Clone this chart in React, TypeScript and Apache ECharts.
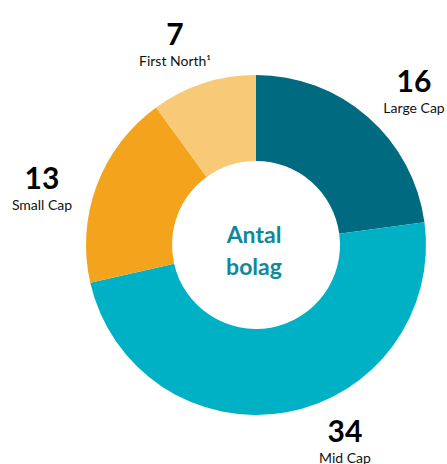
import React, { useEffect, useRef } from "react";
import * as echarts from "echarts";

const categories = ["Large Cap", "Mid Cap", "Small Cap", "First North¹"];
const values = [16, 34, 13, 7];
const colors = ["#006A80", "#00B0C4", "#F4A41C", "#F8C977"];
const centerTitle = "Antal\nbolag";

const labelPos: [number, number][] = [
  [414, 90],
  [345, 440],
  [42, 187],
  [175, 43],
];

export default function App() {
  const ref = useRef<HTMLDivElement>(null);
  useEffect(() => {
    if (!ref.current) return;
    const chart = echarts.init(ref.current, undefined, { renderer: "svg" });
    chart.setOption({
      animation: false,
      backgroundColor: "#ffffff",
      textStyle: { fontFamily: "Lato" },
      graphic: [
        {
          type: "text",
          x: 254,
          y: 250,
          style: {
            text: centerTitle,
            fill: "#10889A",
            font: "bold 23px Lato",
            align: "center",
            verticalAlign: "middle",
            lineHeight: 32,
          },
        },
      ],
      series: [
        {
          type: "pie",
          center: [256, 245],
          radius: [84, 170],
          startAngle: 90,
          clockwise: true,
          silent: true,
          label: {
            show: true,
            position: "outside",
            overflow: "none",
            edgeDistance: 0,
            formatter: "{v|{c}}\n{n|{b}}",
            rich: {
              v: { fontSize: 30, fontWeight: "bold", color: "#000", lineHeight: 34, fontFamily: "Lato", align: "center" },
              n: { fontSize: 14, color: "#111", lineHeight: 20, fontFamily: "Lato", align: "center" },
            },
          },
          labelLine: { show: false },
          labelLayout: (params: any) => ({
            x: labelPos[params.dataIndex][0],
            y: labelPos[params.dataIndex][1],
            align: "center",
            verticalAlign: "middle",
          }),
          data: categories.map((c, i) => ({
            name: c,
            value: values[i],
            itemStyle: { color: colors[i] },
          })),
        },
      ],
    });
    return () => chart.dispose();
  }, []);
  return (
    <div
      ref={ref}
      style={{ position: "fixed", left: 0, top: 0, width: 447, height: 464 }}
    />
  );
}
